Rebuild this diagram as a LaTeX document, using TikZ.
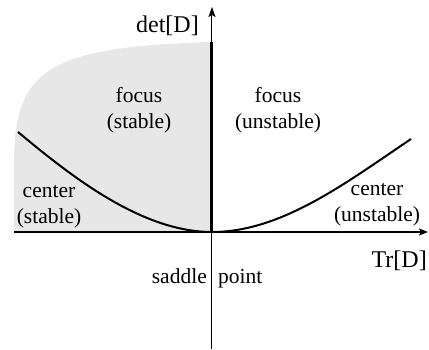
\documentclass[tikz,border=0pt]{standalone}
\usepackage{fontspec}
\setmainfont{Liberation Serif}
\newfontfamily\lserif{Liberation Serif}
\usetikzlibrary{arrows.meta}
\definecolor{regiongray}{RGB}{231,231,231}
\tikzset{
  lbl/.style={inner sep=0pt, anchor=base, font=\lserif\fontsize{21.5}{26}\selectfont},
  axlbl/.style={inner sep=0pt, font=\lserif\fontsize{24}{28}\selectfont},
  axis/.style={line width=1pt, -{Stealth[length=10pt,width=7pt,inset=2pt]}},
  curve/.style={line width=2pt},
}
\begin{document}
\begin{tikzpicture}[x=1pt,y=1pt]
\useasboundingbox (-212,-117) rectangle (217,232);
% shaded stable region
\fill[regiongray] (-198,0) -- (-198,70) .. controls (-198,165) and (-160,185) .. (0,190) -- (0,0) -- cycle;
% coordinates
\coordinate (O) at (0,0);
\coordinate (xl) at (-198,0);
\coordinate (xr) at (216,0);
\coordinate (yb) at (0,-117);
\coordinate (yt) at (0,225);
\coordinate (ytop) at (0,190);
\coordinate (cl) at (-194,100);
\coordinate (cr) at (199,93);
% axes
\draw[axis] (yb) -- (yt);
\draw[line width=2.2pt] (xl) -- (O);
\draw[line width=2.2pt, -{Stealth[length=9pt,width=7pt,inset=2pt]}] (O) -- (xr);
\draw[line width=3pt] (O) -- (ytop);
% parabola det = Tr^2/4
\draw[curve] (cl) .. controls (-140,55) and (-70,0) .. (O);
\draw[curve] (O) .. controls (70,0) and (135,50) .. (cr);
% labels
\node[axlbl, anchor=base east] (det) at (-13,200) {det[D]};
\node[axlbl, anchor=base east] (tr) at (215,-35) {Tr[D]};
\node[lbl] (fs1) at (-73,130) {focus};
\node[lbl] (fs2) at (-73,103.5) {(stable)};
\node[lbl] (fu1) at (66,130) {focus};
\node[lbl] (fu2) at (66,104) {(unstable)};
\node[lbl] (cs1) at (-163,35) {center};
\node[lbl] (cs2) at (-163,9) {(stable)};
\node[lbl] (cu1) at (165,37) {center};
\node[lbl] (cu2) at (165,10.5) {(unstable)};
\node[lbl, anchor=base east] (sad) at (-5,-51) {saddle};
\node[lbl, anchor=base west] (pt) at (6,-51) {point};
\end{tikzpicture}
\end{document}
